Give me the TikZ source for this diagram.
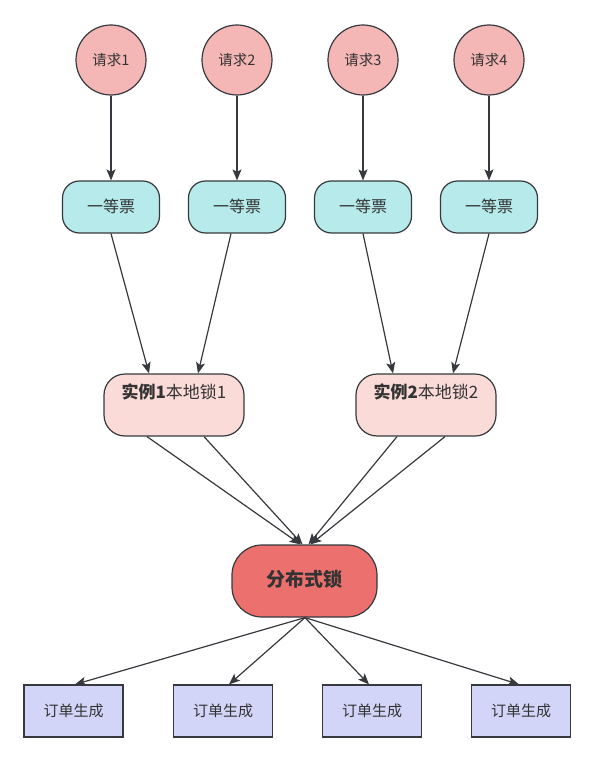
\documentclass[tikz,border=0pt]{standalone}
\usepackage{fontspec}
\setmainfont{Noto Sans CJK SC}
\usetikzlibrary{arrows.meta}
\definecolor{linec}{HTML}{36393D}
\definecolor{txtc}{HTML}{333333}
\definecolor{reqc}{HTML}{F5B7B5}
\definecolor{tickc}{HTML}{B6EAEB}
\definecolor{instc}{HTML}{FADBD8}
\definecolor{lockc}{HTML}{EC716E}
\definecolor{ordc}{HTML}{D2D5F7}
\tikzset{
  shp/.style={draw=linec, line width=1.2pt, text=txtc, inner sep=0pt, text height=1.15em, text depth=0.12em},
  reqnode/.style={shp, circle, fill=reqc, minimum size=70pt, font=\fontsize{14.5}{16}\selectfont},
  ticknode/.style={shp, rectangle, rounded corners=17pt, fill=tickc, minimum width=97pt, minimum height=52pt, font=\fontsize{16}{18}\selectfont},
  instnode/.style={shp, rectangle, rounded corners=21pt, fill=instc, minimum width=140pt, minimum height=62pt},
  instlabel/.style={text=txtc, inner sep=0pt, text height=1.15em, text depth=0.12em, font=\fontsize{17}{19}\selectfont, yshift=12pt},
  locknode/.style={shp, rectangle, rounded corners=30pt, fill=lockc, minimum width=145pt, minimum height=72pt, font=\fontsize{19}{21}\selectfont\bfseries},
  ordnode/.style={shp, rectangle, fill=ordc, minimum width=99pt, minimum height=52pt, font=\fontsize{15}{17}\selectfont},
  arr/.style={draw=linec, line width=1.2pt, -{Stealth[length=11pt,width=9pt,inset=2.5pt]}},
}
\begin{document}
\begin{tikzpicture}[x=1pt,y=-1pt]
\useasboundingbox (0,0) rectangle (595,762);
\fill[white] (0,0) rectangle (595,762);

\node[reqnode] (r1) at (111,60) {请求1};
\node[reqnode] (r2) at (237,60) {请求2};
\node[reqnode] (r3) at (363,60) {请求3};
\node[reqnode] (r4) at (489,60) {请求4};

\node[ticknode] (t1) at (111,207) {一等票};
\node[ticknode] (t2) at (237,207) {一等票};
\node[ticknode] (t3) at (363,207) {一等票};
\node[ticknode] (t4) at (489,207) {一等票};

\node[instnode, label={[instlabel]center:{\textbf{实例1}本地锁1}}] (i1) at (174,405) {};
\node[instnode, label={[instlabel]center:{\textbf{实例2}本地锁2}}] (i2) at (426,405) {};

\node[locknode] (lk) at (304.5,581) {分布式锁};

\node[ordnode] (o1) at (73.5,711) {订单生成};
\node[ordnode] (o2) at (223,711) {订单生成};
\node[ordnode] (o3) at (372,711) {订单生成};
\node[ordnode] (o4) at (521,711) {订单生成};

\draw[arr] (r1) -- (t1);
\draw[arr] (r2) -- (t2);
\draw[arr] (r3) -- (t3);
\draw[arr] (r4) -- (t4);

\draw[arr] (t1.south) -- ([xshift=-25pt]i1.north);
\draw[arr] ([xshift=-6pt]t2.south) -- ([xshift=24pt]i1.north);
\draw[arr] (t3.south) -- ([xshift=-33pt]i2.north);
\draw[arr] (t4.south) -- ([xshift=27pt]i2.north);

\draw[arr] ([xshift=-27pt]i1.south) -- ([xshift=-4pt]lk.north);
\draw[arr] ([xshift=30pt]i1.south) -- ([xshift=-2pt]lk.north);
\draw[arr] ([xshift=-29pt]i2.south) -- ([xshift=4pt]lk.north);
\draw[arr] ([xshift=19pt]i2.south) -- ([xshift=6pt]lk.north);

\draw[arr] ([xshift=0.5pt]lk.south) -- ([xshift=1.5pt]o1.north);
\draw[arr] ([xshift=0.5pt]lk.south) -- ([xshift=6pt]o2.north);
\draw[arr] ([xshift=0.5pt]lk.south) -- ([xshift=-3pt]o3.north);
\draw[arr] ([xshift=0.5pt]lk.south) -- ([xshift=-2pt]o4.north);
\end{tikzpicture}
\end{document}
